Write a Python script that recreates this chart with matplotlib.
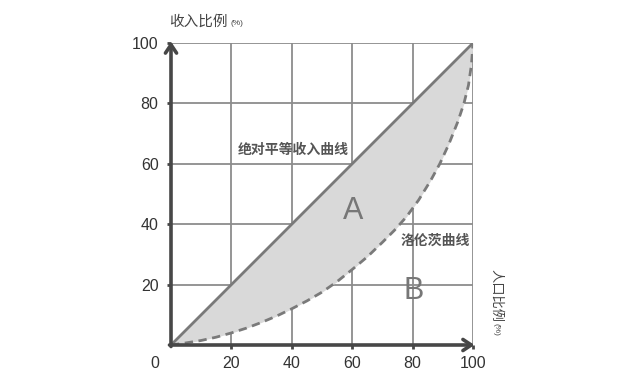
import matplotlib.pyplot as plt

plt.rcParams['font.family'] = ['Liberation Sans', 'Noto Sans CJK SC', 'DejaVu Sans']

# equality line and Lorenz curve (population % -> income %)
equal_x = [0, 100]
equal_y = [0, 100]
lorenz_x = [0, 5, 10, 15, 20, 25, 30, 35, 40, 45, 50, 55, 60, 65, 70, 74, 78, 82, 86, 89, 92, 95, 97, 98.5, 99.5, 100]
lorenz_y = [0, 0.7, 1.5, 2.6, 4, 5.6, 7.5, 9.6, 12, 14.6, 17.5, 21, 25, 29.2, 34, 38, 42.5, 48, 54.5, 60, 66.5, 74, 80, 86, 93, 100]
ticks = [20, 40, 60, 80, 100]

dark = '#474747'
line_c = '#7a7a7a'
grid_c = '#8c8c8c'

fig = plt.figure(figsize=(6.4, 3.84), dpi=100)
ax = fig.add_axes([171/640, 1 - 345/384, 302/640, 302/384])
ax.set_xlim(0, 100)
ax.set_ylim(0, 100)

for s in ax.spines.values():
    s.set_visible(False)

for t in ticks:
    ax.axvline(t, color=grid_c, lw=1.3, zorder=1)
    ax.axhline(t, color=grid_c, lw=1.3, zorder=1)

ax.fill_between(lorenz_x, lorenz_y, [x for x in lorenz_x], color='#d9d9d9', zorder=2, lw=0)
ax.plot(equal_x, equal_y, color=line_c, lw=2, zorder=3)
ax.plot(lorenz_x, lorenz_y, color=line_c, lw=2, ls=(0, (3, 2)), zorder=3)

# axes with arrow heads
arrow = dict(arrowstyle='->, head_length=0.6, head_width=0.4', color=dark, lw=2.6,
             shrinkA=0, shrinkB=0)
ax.annotate('', xy=(0, 100.5), xytext=(0, -0.5), arrowprops=arrow, annotation_clip=False, zorder=5)
ax.annotate('', xy=(100.5, 0), xytext=(-0.5, 0), arrowprops=arrow, annotation_clip=False, zorder=5)

ax.set_xticks(ticks)
ax.set_yticks(ticks)
ax.set_xticklabels([str(t) for t in ticks])
ax.set_yticklabels([str(t) for t in ticks])
ax.tick_params(axis='both', direction='out', length=3, width=2, color=dark,
               labelsize=11.5, labelcolor='#333333')
ax.tick_params(axis='x', pad=5)
ax.tick_params(axis='y', pad=6)
ax.text(-5.5, -6, '0', fontsize=11.5, color='#333333', ha='center', va='center')

# labels
ax.text(-0.7, 107, '收入比例', fontsize=10.5, color='#444444', ha='left', va='center', clip_on=False)
ax.text(19.6, 106.5, '(%)', fontsize=6, color='#444444', ha='left', va='center', clip_on=False)
ax.text(107.5, 16.5, '人口比例', fontsize=9.5, color='#444444', rotation=270,
        ha='center', va='center', clip_on=False)
ax.text(107.5, 5.0, '(%)', fontsize=6, color='#444444', rotation=270,
        ha='center', va='center', clip_on=False)

ax.text(40.5, 64.5, '绝对平等收入曲线', fontsize=10, fontweight='bold', color='#555555',
        ha='center', va='center', zorder=4)
ax.text(87.5, 34.5, '洛伦茨曲线', fontsize=10, fontweight='bold', color='#555555',
        ha='center', va='center', zorder=4)
ax.text(60.3, 44.5, 'A', fontsize=22, color='#777777', ha='center', va='center', zorder=4)
ax.text(80.5, 18, 'B', fontsize=22, color='#777777', ha='center', va='center', zorder=4)

fig.savefig('out.png', dpi=100)
